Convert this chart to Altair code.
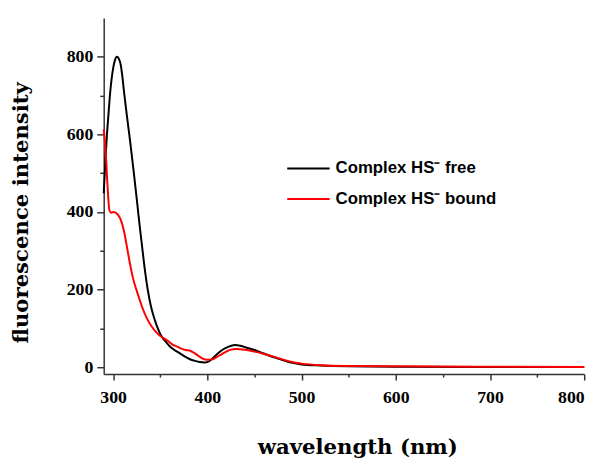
import altair as alt
import pandas as pd

free_wl = [290, 293, 295, 297, 300, 302, 304, 306, 308, 310, 311.5, 314, 318, 322, 325, 327, 329, 331.5, 334, 336.7, 340, 343, 346, 349, 352, 356, 360, 364, 368, 375, 381, 387, 392, 397, 400, 404, 408, 412, 417, 422, 429, 435, 442, 450, 460, 470, 480, 490, 500, 520, 550, 600, 700, 800]
free_val = [448, 583, 650, 711, 770, 792, 800, 795, 780, 745, 711, 660, 583, 500, 435, 390, 347, 295, 245, 200, 158, 131, 109, 91, 77, 65, 54, 46, 40, 29, 21, 16, 13, 12, 13, 19, 28, 37, 46, 52, 57, 55, 50, 44, 35, 26, 18, 11, 7, 4, 2, 1, 0.5, 0.5]

bound_wl = [290, 292, 294, 296, 298, 300, 302, 305, 308, 312, 315, 318, 321, 324.5, 328, 331.5, 336, 340, 345, 349, 354, 358, 363, 368, 373, 377, 381, 385, 390, 395, 400, 405, 410, 415, 420, 425, 431, 440, 450, 460, 470, 480, 490, 500, 520, 550, 600, 700, 800]
bound_val = [613, 560, 470, 405, 398, 400, 399, 393, 380, 345, 305, 265, 230, 201, 175, 150, 125, 108, 92, 82, 74, 68, 58, 53, 47, 44, 43, 38, 30, 22, 19, 20, 26, 33, 40, 45, 47, 45, 40, 34, 27, 20, 13, 9, 5, 3, 2, 1, 0.5]

series_names = ["Complex HS\u207b free", "Complex HS\u207b bound"]
series_colors = ["#000000", "#ff0000"]

x_major = [300, 400, 500, 600, 700, 800]
x_minor = [350, 450, 550, 650, 750]
y_major = [0, 200, 400, 600, 800]
y_minor = [100, 300, 500, 700]

df = pd.concat([
    pd.DataFrame({"wl": free_wl, "val": free_val, "series": series_names[0]}),
    pd.DataFrame({"wl": bound_wl, "val": bound_val, "series": series_names[1]}),
])

xscale = alt.Scale(domain=[290, 800], nice=False, zero=False)
yscale = alt.Scale(domain=[-18, 900], nice=False, zero=False)
color = alt.Color(
    "series:N",
    scale=alt.Scale(domain=series_names, range=series_colors),
    legend=alt.Legend(
        title=None, orient="none", legendX=185, legendY=130,
        symbolType="stroke", symbolSize=1849, symbolStrokeWidth=2,
        labelFont="Liberation Sans", labelFontWeight="bold", labelFontSize=17,
        labelColor="black", labelOffset=5, rowPadding=-29, labelLimit=400,
    ),
)

main = alt.Chart(df).mark_line(strokeWidth=2, interpolate="monotone").encode(
    x=alt.X("wl:Q", scale=xscale, axis=alt.Axis(
        orient="bottom", values=x_major, tickSize=6, title="wavelength (nm)",
        titleFontSize=21.5, titleX=257, titleY=80, titleBaseline="alphabetic",
        labelPadding=9,
    )),
    y=alt.Y("val:Q", scale=yscale, axis=alt.Axis(
        orient="left", values=y_major, tickSize=7, title="fluorescence intensity",
        titleFontSize=21.5, titleX=-83, titleY=197, titleAngle=-90,
        titleBaseline="middle", labelPadding=4,
    )),
    color=color,
    detail="series:N",
)

minor = alt.Chart(df).mark_line(strokeWidth=0, opacity=0).encode(
    x=alt.X("wl:Q", scale=xscale, axis=alt.Axis(
        values=x_minor, tickSize=3, labels=False, title=None, domain=False, orient="bottom")),
    y=alt.Y("val:Q", scale=yscale, axis=alt.Axis(
        values=y_minor, tickSize=4, labels=False, title=None, domain=False, orient="left")),
    detail="series:N",
)

chart = alt.layer(minor, main).resolve_axis(x="independent", y="independent").properties(
    width=487, height=361,
    autosize=alt.AutoSizeParams(type="none"),
    padding={"left": 97, "top": 7, "right": 16, "bottom": 85},
).configure_view(stroke=None).configure_axis(
    grid=False,
    domainColor="#333333", domainWidth=1.5,
    tickColor="#333333", tickWidth=1.5,
    labelFont="Liberation Serif", labelFontWeight="bold", labelFontSize=18, labelColor="black",
    titleFont="DejaVu Serif", titleFontWeight="bold", titleColor="black",
)

chart.save("out.html", embed_options={"renderer": "svg", "actions": False})
